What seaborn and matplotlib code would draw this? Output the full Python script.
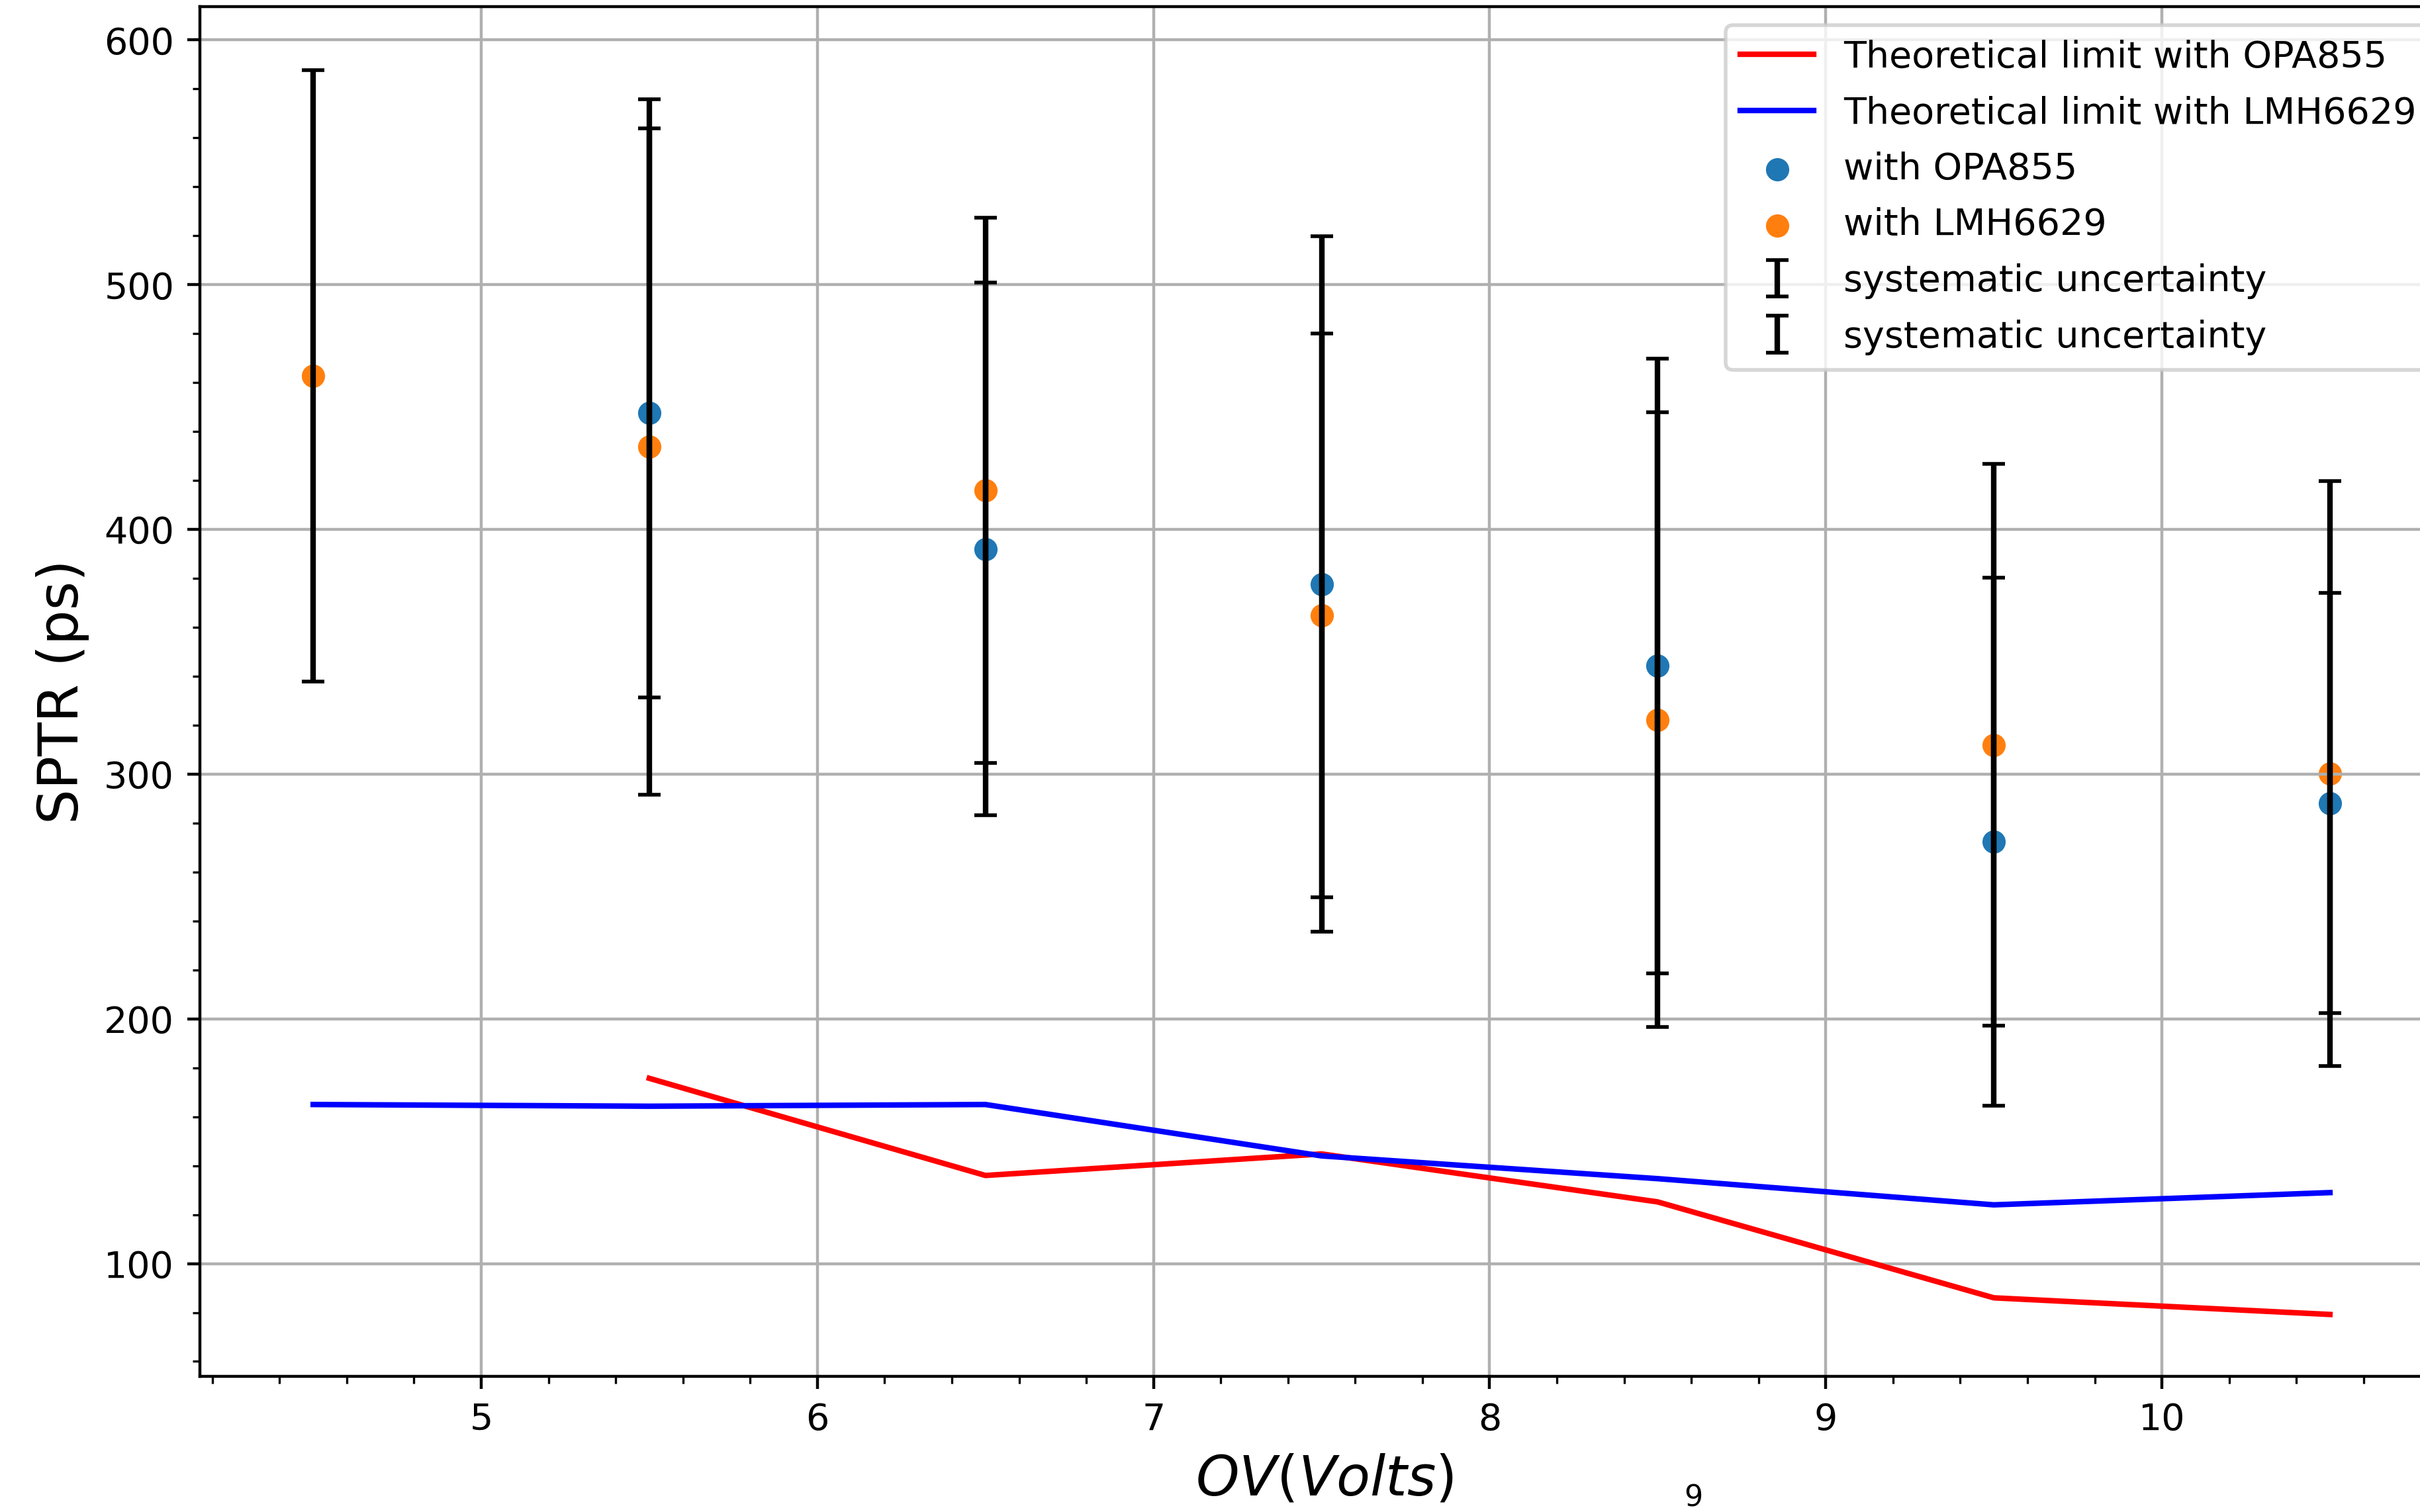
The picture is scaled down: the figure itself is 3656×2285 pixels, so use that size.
import numpy as np
import pandas as pd
import matplotlib
matplotlib.use("Agg")
import matplotlib.pyplot as plt
import seaborn as sns

# ---- data ----
ov_opa = [5.5, 6.5, 7.5, 8.5, 9.5, 10.5]
sptr_opa = [447.6, 392.0, 377.7, 344.2, 272.4, 288.2]
err_opa = [116.2, 108.8, 142.2, 125.5, 107.9, 85.9]
theory_opa = [175.7, 136.0, 144.8, 125.2, 86.0, 79.2]

ov_lmh = [4.5, 5.5, 6.5, 7.5, 8.5, 9.5, 10.5]
sptr_lmh = [462.8, 433.7, 416.0, 364.9, 322.2, 312.0, 300.2]
err_lmh = [125.0, 142.2, 111.3, 115.2, 125.6, 114.7, 119.6]
theory_lmh = [165.0, 164.3, 165.0, 144.0, 134.7, 124.0, 129.0]

lbl_th_opa = "Theoretical limit with OPA855"
lbl_th_lmh = "Theoretical limit with LMH6629"
lbl_opa = "with OPA855"
lbl_lmh = "with LMH6629"
lbl_err = "systematic uncertainty"

df_opa = pd.DataFrame({"OV": ov_opa, "SPTR": sptr_opa, "err": err_opa, "theory": theory_opa})
df_lmh = pd.DataFrame({"OV": ov_lmh, "SPTR": sptr_lmh, "err": err_lmh, "theory": theory_lmh})

plt.rcParams["font.family"] = ["DejaVu Sans"]

fig = plt.figure(figsize=(9.14, 5.7125), dpi=400)
ax = fig.add_axes([0.0826, 0.0897, 0.9295, 0.906])

sns.lineplot(data=df_opa, x="OV", y="theory", color="red", linewidth=1.5,
             sort=False, estimator=None, label=lbl_th_opa, ax=ax)
sns.lineplot(data=df_lmh, x="OV", y="theory", color="blue", linewidth=1.5,
             sort=False, estimator=None, label=lbl_th_lmh, ax=ax)
sns.scatterplot(data=df_opa, x="OV", y="SPTR", color="#1f77b4", s=40,
                linewidth=0, label=lbl_opa, ax=ax)
sns.scatterplot(data=df_lmh, x="OV", y="SPTR", color="#ff7f0e", s=40,
                linewidth=0, label=lbl_lmh, ax=ax)

eb1 = ax.errorbar(df_opa["OV"], df_opa["SPTR"], yerr=df_opa["err"], fmt="none",
                  ecolor="black", elinewidth=1.5, capsize=3, capthick=1.0,
                  label=lbl_err)
eb2 = ax.errorbar(df_lmh["OV"], df_lmh["SPTR"], yerr=df_lmh["err"], fmt="none",
                  ecolor="black", elinewidth=1.5, capsize=3, capthick=1.0,
                  label=lbl_err)

ax.set_xlim(4.163, 10.855)
ax.set_ylim(53.9, 613.7)
ax.minorticks_on()
ax.grid(True, which="major", color="#b0b0b0", linewidth=0.8)
ax.tick_params(axis="both", which="major", labelsize=10)

ax.set_xlabel(r"$OV (Volts)$", fontsize=15)
ax.set_ylabel("SPTR (ps)", fontsize=15)

handles, labels = ax.get_legend_handles_labels()
order = [lbl_th_opa, lbl_th_lmh, lbl_opa, lbl_lmh]
hmap = {}
for h, l in zip(handles, labels):
    if l in order and l not in hmap:
        hmap[l] = h
hs = [hmap[l] for l in order] + [eb1, eb2]
ls = order + [lbl_err, lbl_err]
ax.legend(hs, ls, loc="upper right", fontsize=10, labelspacing=0.55)

fig.text(0.6997, 0.0092, "9", fontsize=8, ha="center", va="center")

fig.savefig("out.png", dpi=400)
